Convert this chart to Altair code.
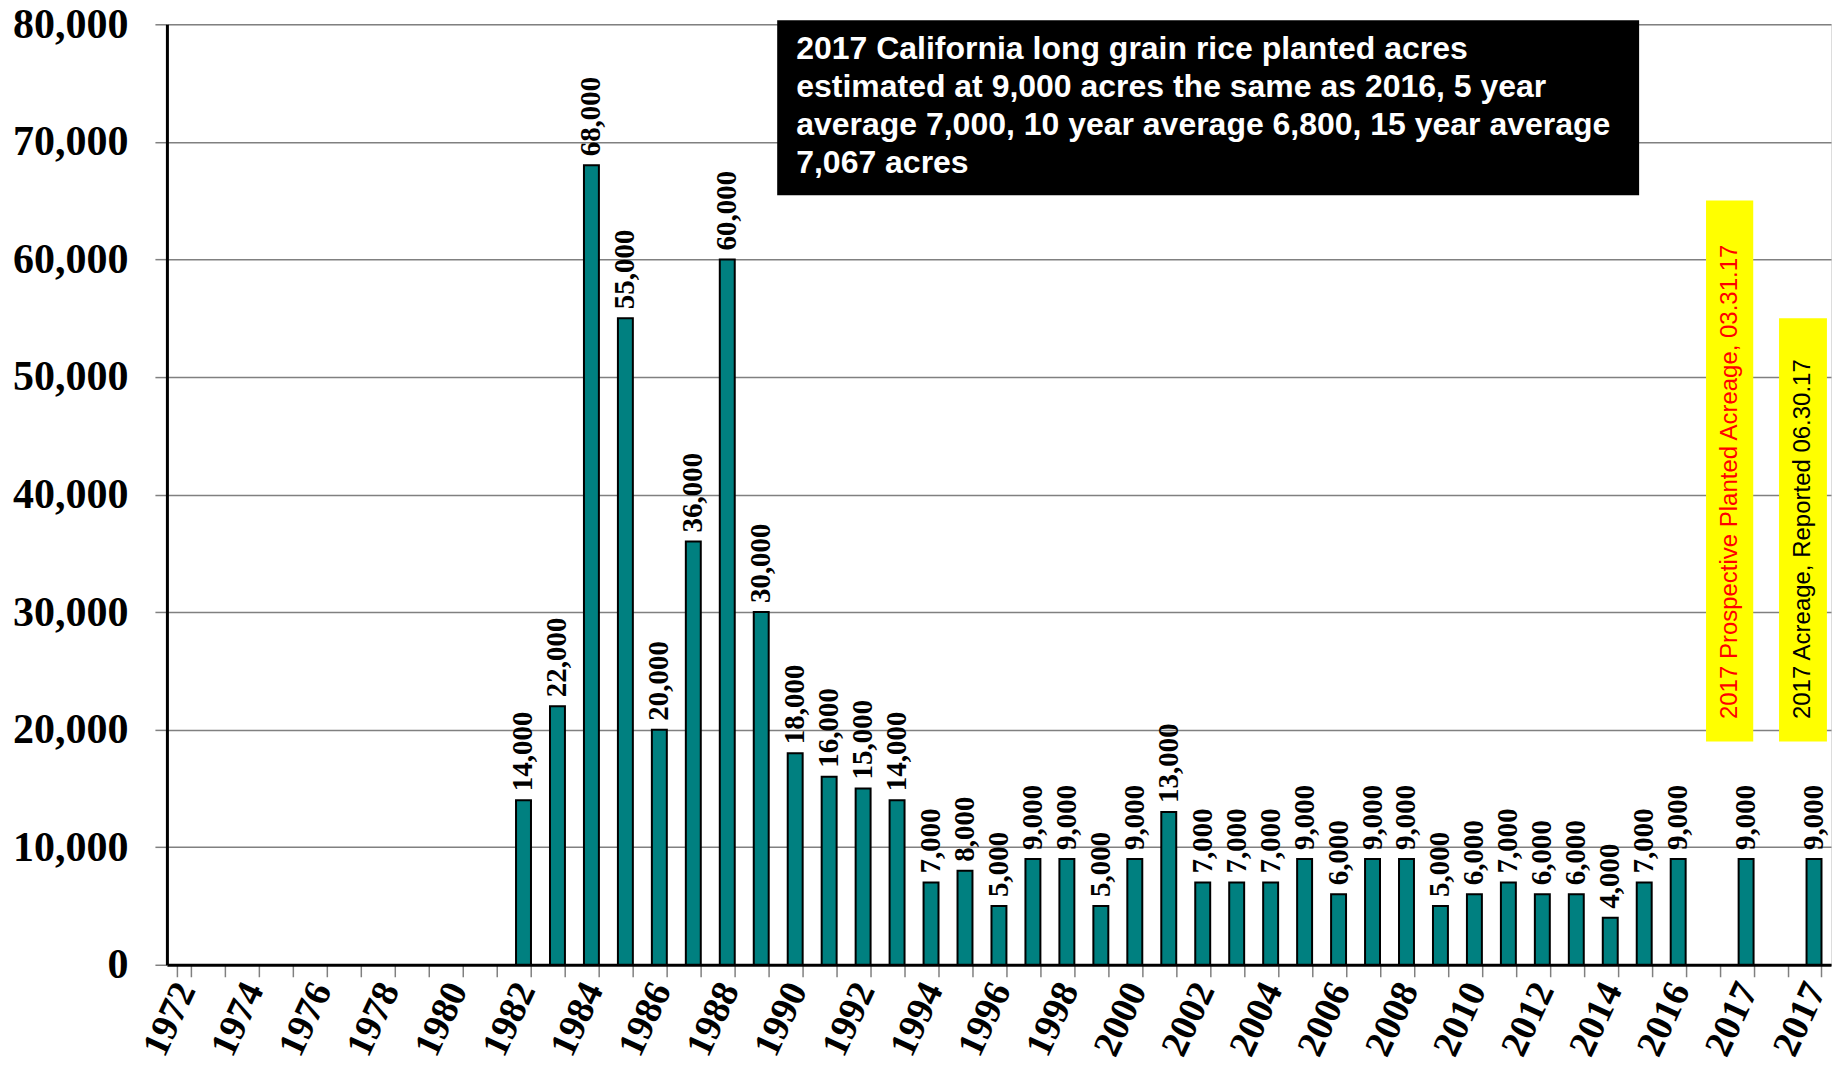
import json
import altair as alt
import pandas as pd

# ---------------- data ----------------
categories = [str(y) for y in range(1972, 2017)] + ["", "2017", "", "2017"]
acres = [None] * 10 + [
    14000, 22000, 68000, 55000, 20000, 36000, 60000, 30000, 18000, 16000,
    15000, 14000, 7000, 8000, 5000, 9000, 9000, 5000, 9000, 13000,
    7000, 7000, 7000, 9000, 6000, 9000, 9000, 5000, 6000, 7000,
    6000, 6000, 4000, 7000, 9000,
] + [None, 9000, None, 9000]
tick_labels = [c if i % 2 == 0 else "" for i, c in enumerate(categories)]
y_ticks = [0, 10000, 20000, 30000, 40000, 50000, 60000, 70000, 80000]

title_text = ("2017 California long grain rice planted acres\n"
              "estimated at 9,000 acres the same as 2016, 5 year\n"
              "average 7,000, 10 year average 6,800, 15 year average\n"
              "7,067 acres")
note_prospective = "2017 Prospective Planted Acreage, 03.31.17"
note_reported = "2017 Acreage, Reported 06.30.17"

df = pd.DataFrame({"idx": list(range(len(categories))), "label": categories, "acres": acres})
N = len(categories)

# ---------------- scales ----------------
y_scale = alt.Scale(domain=[0, 80000])
x_band = alt.Scale(domain=list(range(N)), paddingInner=0.56, paddingOuter=0.28)
x_lin = alt.Scale(domain=[0, N])

label_expr = json.dumps(tick_labels) + "[datum.value]"

bars = alt.Chart(df).mark_bar(color="#008080", stroke="black", strokeWidth=2).encode(
    x=alt.X("idx:O", scale=x_band, axis=alt.Axis(
        title=None, labelExpr=label_expr, labelAngle=295, labelAlign="right",
        labelBaseline="middle", labelFont="Liberation Serif", labelFontWeight="bold",
        labelFontSize=38, labelColor="black", labelPadding=8, labelOffset=2,
        labelOverlap=False,
        tickBand="extent", tickSize=12, tickColor="#808080", tickWidth=1.5,
        domainColor="black", domainWidth=3, grid=False)),
    y=alt.Y("acres:Q", scale=y_scale, axis=alt.Axis(
        title=None, values=y_ticks, format=",d", labelFont="Liberation Serif",
        labelFontWeight="bold", labelFontSize=42, labelColor="black", labelPadding=27,
        tickSize=12, tickColor="#808080", tickWidth=1.5, grid=True, gridColor="#808080",
        gridWidth=1.5, domainColor="black", domainWidth=3)),
)

bar_labels = alt.Chart(df).mark_text(
    angle=270, align="left", baseline="middle", dx=9,
    font="Liberation Serif", fontWeight="bold", fontSize=29, color="black",
).encode(
    x=alt.X("idx:O", scale=x_band, axis=None),
    y=alt.Y("acres:Q", scale=y_scale),
    text=alt.Text("acres:Q", format=",d"),
)

def xq(v):
    return alt.X(datum=v, type="quantitative", scale=x_lin, axis=None)

title_box = alt.Chart().mark_rect(color="black").encode(
    x=xq(17.97), x2=alt.X2(datum=43.35),
    y=alt.Y(datum=65460, type="quantitative", scale=y_scale), y2=alt.Y2(datum=80340),
)
title_label = alt.Chart().mark_text(
    align="left", baseline="top", font="Liberation Sans", fontWeight="bold",
    fontSize=32, color="white", lineBreak="\n", lineHeight=38,
).encode(
    x=xq(18.53), y=alt.Y(datum=79150, type="quantitative", scale=y_scale),
    text=alt.value(title_text),
)

box1 = alt.Chart().mark_rect(color="#FFFF00").encode(
    x=xq(45.32), x2=alt.X2(datum=46.71),
    y=alt.Y(datum=19000, type="quantitative", scale=y_scale), y2=alt.Y2(datum=65000),
)
box2 = alt.Chart().mark_rect(color="#FFFF00").encode(
    x=xq(47.47), x2=alt.X2(datum=48.88),
    y=alt.Y(datum=19000, type="quantitative", scale=y_scale), y2=alt.Y2(datum=55000),
)
note1 = alt.Chart().mark_text(
    angle=270, align="left", baseline="middle", font="Liberation Sans",
    fontSize=24, color="#FF0000",
).encode(
    x=xq(46.02), y=alt.Y(datum=20900, type="quantitative", scale=y_scale),
    text=alt.value(note_prospective),
)
note2 = alt.Chart().mark_text(
    angle=270, align="left", baseline="middle", font="Liberation Sans",
    fontSize=24, color="black",
).encode(
    x=xq(48.17), y=alt.Y(datum=20900, type="quantitative", scale=y_scale),
    text=alt.value(note_reported),
)

chart = alt.layer(
    bars, bar_labels, title_box, title_label, box1, box2, note1, note2
).resolve_scale(x="independent").properties(
    width=1665, height=941,
    autosize=alt.AutoSizeParams(type="none"),
    padding={"left": 159, "top": 16, "right": 4, "bottom": 96},
).configure_view(stroke="black", strokeWidth=3).configure(background="white")

chart.save("out.html", embed_options={"renderer": "svg", "actions": False})
